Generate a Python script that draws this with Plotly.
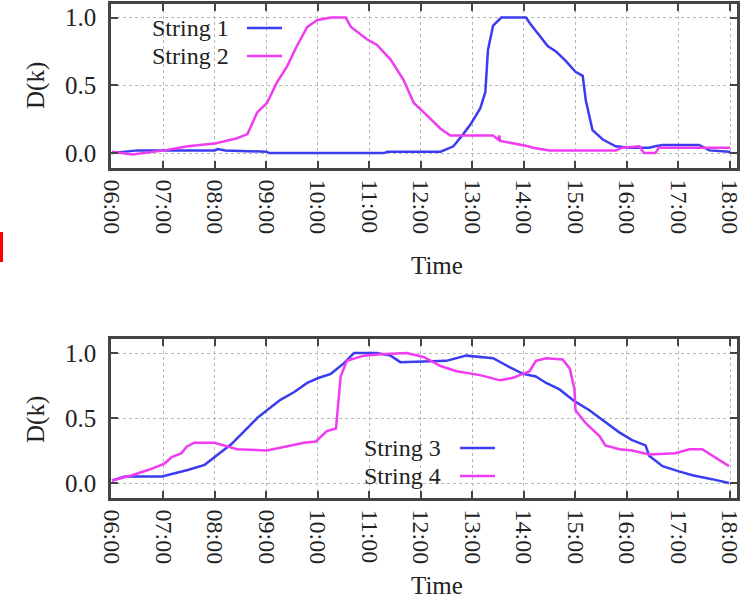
import plotly.graph_objects as go

# ---------------- data (hours of day) ----------------
s1_t = [6.0, 6.5, 7.0, 8.0, 8.05, 8.2, 9.0, 9.05, 11.28, 11.35, 12.38, 12.63, 12.82, 12.96, 13.15, 13.25,
        13.3, 13.4, 13.56, 14.04, 14.11, 14.31, 14.46, 14.62, 14.81, 15.0, 15.14, 15.2, 15.33, 15.53,
        15.78, 16.05, 16.43, 16.55, 16.69, 17.4, 17.6, 17.98, 18.0]
s1_v = [0.0, 0.02, 0.02, 0.02, 0.03, 0.02, 0.01, 0.0, 0.0, 0.01, 0.01, 0.05, 0.14, 0.21, 0.33, 0.45,
        0.76, 0.94, 1.0, 1.0, 0.96, 0.86, 0.79, 0.75, 0.68, 0.60, 0.57, 0.39, 0.17, 0.10,
        0.05, 0.04, 0.04, 0.05, 0.06, 0.06, 0.02, 0.01, 0.0]

s2_t = [6.0, 6.39, 7.02, 7.47, 7.99, 8.43, 8.63, 8.82, 9.01, 9.2, 9.4, 9.59, 9.79, 9.98, 10.25, 10.54,
        10.64, 10.75, 10.95, 11.14, 11.41, 11.66, 11.86, 12.11, 12.38, 12.57, 13.4, 13.5, 13.52, 13.54,
        13.85, 14.08, 14.17, 14.5, 15.78, 15.91, 16.24, 16.33, 16.55, 16.62, 18.0]
s2_v = [0.01, -0.01, 0.02, 0.05, 0.07, 0.11, 0.14, 0.30, 0.37, 0.52, 0.64, 0.79, 0.93, 0.98, 1.0, 1.0,
        0.93, 0.90, 0.84, 0.80, 0.69, 0.54, 0.37, 0.28, 0.18, 0.13, 0.13, 0.10, 0.13, 0.09,
        0.07, 0.05, 0.04, 0.02, 0.02, 0.04, 0.05, 0.0, 0.0, 0.04, 0.04]

s3_t = [6.0, 6.25, 6.97, 7.47, 7.8, 8.05, 8.32, 8.57, 8.82, 9.01, 9.27, 9.54, 9.79, 10.02, 10.25, 10.5,
        10.7, 11.14, 11.41, 11.6, 12.24, 12.49, 12.88, 13.4, 13.73, 13.98, 14.23, 14.43, 14.69, 14.98,
        15.27, 15.58, 15.85, 16.1, 16.36, 16.43, 16.69, 17.01, 17.27, 17.65, 17.98]
s3_v = [0.02, 0.05, 0.05, 0.10, 0.14, 0.22, 0.30, 0.40, 0.50, 0.56, 0.64, 0.70, 0.77, 0.81, 0.84, 0.92,
        1.0, 1.0, 0.98, 0.93, 0.94, 0.94, 0.98, 0.96, 0.89, 0.84, 0.82, 0.77, 0.72, 0.63,
        0.56, 0.47, 0.39, 0.33, 0.29, 0.21, 0.13, 0.09, 0.06, 0.03, 0.0]

s4_t = [6.0, 6.39, 6.7, 7.02, 7.16, 7.35, 7.45, 7.6, 7.99, 8.24, 8.43, 9.01, 9.34, 9.73, 9.96, 10.17,
        10.35, 10.44, 10.56, 10.89, 11.22, 11.72, 12.05, 12.38, 12.69, 13.15, 13.54, 13.79, 13.98, 14.11,
        14.23, 14.43, 14.75, 14.89, 14.98, 15.0, 15.2, 15.47, 15.58, 15.85, 16.1, 16.43, 16.94, 17.21,
        17.46, 17.71, 17.98]
s4_v = [0.02, 0.06, 0.10, 0.15, 0.20, 0.23, 0.28, 0.31, 0.31, 0.28, 0.26, 0.25, 0.28, 0.31, 0.32, 0.40,
        0.42, 0.82, 0.94, 0.98, 0.99, 1.0, 0.97, 0.90, 0.86, 0.83, 0.79, 0.81, 0.84, 0.86,
        0.94, 0.96, 0.95, 0.88, 0.72, 0.56, 0.46, 0.36, 0.29, 0.26, 0.25, 0.22, 0.23, 0.26,
        0.26, 0.20, 0.13]

hour_ticks = list(range(6, 19))
hour_labels = [f"{h:02d}:00" for h in hour_ticks]
y_ticks = [0.0, 0.5, 1.0]
y_labels = ["0.0", "0.5", "1.0"]

BLUE = "#3c3cf0"
MAG = "#f03cf0"
FONT = "Liberation Serif"
W, H = 745, 604

fig = go.Figure()
fig.add_trace(go.Scatter(x=s1_t, y=s1_v, mode="lines", name="String 1",
                         line=dict(color=BLUE, width=2.5), xaxis="x", yaxis="y"))
fig.add_trace(go.Scatter(x=s2_t, y=s2_v, mode="lines", name="String 2",
                         line=dict(color=MAG, width=2.5), xaxis="x", yaxis="y"))
fig.add_trace(go.Scatter(x=s3_t, y=s3_v, mode="lines", name="String 3",
                         line=dict(color=BLUE, width=2.5), xaxis="x2", yaxis="y2"))
fig.add_trace(go.Scatter(x=s4_t, y=s4_v, mode="lines", name="String 4",
                         line=dict(color=MAG, width=2.5), xaxis="x2", yaxis="y2"))

def px(x):
    return x / W

def py(y):
    return 1 - y / H

xcommon = dict(range=[5.981, 18.136], tickmode="array", tickvals=hour_ticks, ticktext=hour_labels,
               tickangle=90, ticks="inside", ticklen=7, tickwidth=2, tickcolor="#444",
               showline=True, linecolor="#444", linewidth=2.5, mirror="ticks",
               showgrid=True, gridcolor="#b8b8b8", griddash="dot", gridwidth=1,
               zeroline=False, tickfont=dict(family=FONT, size=24, color="#222"),
               ticklabelstandoff=4, ticklabeloverflow="allow", automargin=False)
ycommon = dict(tickmode="array", tickvals=y_ticks, ticktext=y_labels,
               ticks="inside", ticklen=7, tickwidth=2, tickcolor="#444",
               showline=True, linecolor="#444", linewidth=2.5, mirror="ticks",
               showgrid=True, gridcolor="#b8b8b8", griddash="dot", gridwidth=1,
               zeroline=False, tickfont=dict(family=FONT, size=25, color="#222"),
               ticklabelstandoff=7, automargin=False)

fig.update_layout(
    width=W, height=H, margin=dict(l=0, r=0, t=0, b=0, autoexpand=False),
    paper_bgcolor="white", plot_bgcolor="white", showlegend=False,
    xaxis=dict(domain=[px(111), px(737)], anchor="y", **xcommon),
    yaxis=dict(domain=[py(168), py(4)], anchor="x", range=[-0.11, 1.10], **ycommon),
    xaxis2=dict(domain=[px(111), px(737)], anchor="y2", **xcommon),
    yaxis2=dict(domain=[py(498), py(339)], anchor="x2", range=[-0.115, 1.108], **ycommon),
)

annots = [
    dict(text="D(k)", x=px(36), y=py(86), textangle=-90),
    dict(text="Time", x=px(437), y=py(265)),
    dict(text="D(k)", x=px(36), y=py(420), textangle=-90),
    dict(text="Time", x=px(437), y=py(585)),
]
for a in annots:
    fig.add_annotation(xref="paper", yref="paper", showarrow=False,
                       font=dict(family=FONT, size=25, color="#222"),
                       xanchor="center", yanchor="middle", **a)

# gnuplot-style legends (text right, sample line after)
leg = [("String 1", 231, 28, 247, 282, BLUE), ("String 2", 231, 56, 247, 282, MAG),
       ("String 3", 443, 448, 460, 495, BLUE), ("String 4", 443, 476, 460, 495, MAG)]
# white backgrounds hiding grid behind legends
fig.add_shape(type="rect", xref="paper", yref="paper", x0=px(113), x1=px(295), y0=py(70), y1=py(6),
              fillcolor="white", line=dict(width=0), layer="between")
fig.add_shape(type="rect", xref="paper", yref="paper", x0=px(335), x1=px(507), y0=py(496), y1=py(430),
              fillcolor="white", line=dict(width=0), layer="between")
for text, tx, ty, lx0, lx1, col in leg:
    fig.add_annotation(xref="paper", yref="paper", showarrow=False, text=text,
                       x=px(tx), y=py(ty), xanchor="right", yanchor="middle",
                       font=dict(family=FONT, size=24, color="#222"))
    fig.add_shape(type="line", xref="paper", yref="paper", x0=px(lx0), x1=px(lx1), y0=py(ty), y1=py(ty),
                  line=dict(color=col, width=2.5))

# red mark at left edge
fig.add_shape(type="rect", xref="paper", yref="paper", x0=0, x1=px(3), y0=py(262), y1=py(232),
              fillcolor="red", line=dict(width=0))

fig.write_html("out.html")
